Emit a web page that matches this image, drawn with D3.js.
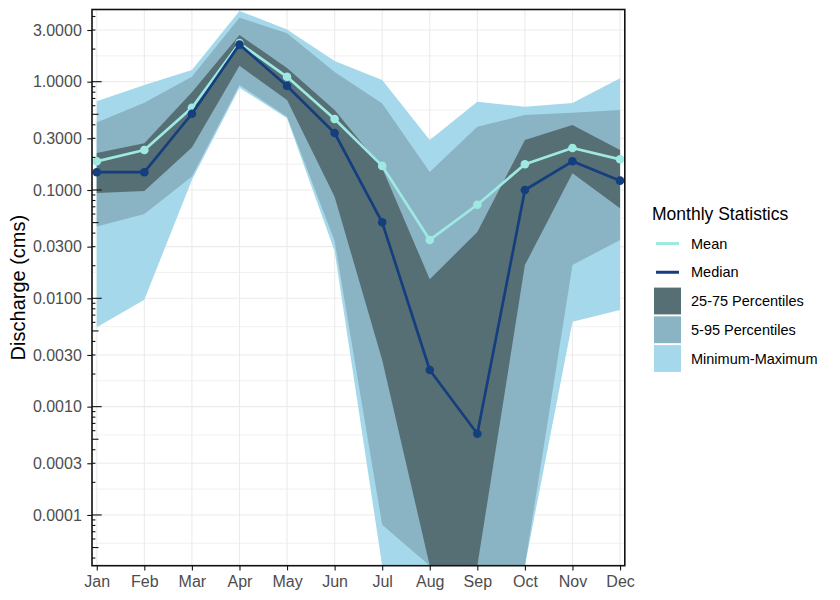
<!DOCTYPE html>
<html>
<head>
<meta charset="utf-8">
<script src="https://cdn.jsdelivr.net/npm/d3@7"></script>
<style>
  body { margin: 0; background: #fff; }
  text { font-family: "Liberation Sans", Arial, Helvetica, sans-serif; }
</style>
</head>
<body>
<div id="chart"></div>
<script>
// monthly discharge statistics (cms)
var months = ['Jan', 'Feb', 'Mar', 'Apr', 'May', 'Jun', 'Jul', 'Aug', 'Sep', 'Oct', 'Nov', 'Dec'];
var meanQ   = [0.184, 0.234, 0.575, 2.27, 1.11, 0.452, 0.167, 0.0346, 0.0731, 0.173, 0.244, 0.192];
var medianQ = [0.146, 0.146, 0.506, 2.20, 0.912, 0.336, 0.0503, 0.00218, 0.000562, 0.100, 0.184, 0.122];
var p25 = [0.094, 0.098, 0.247, 1.40, 0.678, 0.0867, 0.0027, 0, 0, 0.0203, 0.1426, 0.0678];
var p75 = [0.22, 0.27, 0.80, 2.70, 1.34, 0.548, 0.160, 0.015, 0.041, 0.289, 0.398, 0.234];
var p5  = [0.046, 0.060, 0.133, 0.93, 0.475, 0.0338, 0.000081, 0, 0, 0, 0.0203, 0.0346];
var p95 = [0.42, 0.64, 1.11, 3.9, 2.80, 1.23, 0.63, 0.1466, 0.384, 0.492, 0.517, 0.548];
var minQ = [0.0054, 0.0097, 0.124, 0.88, 0.459, 0.0273, 0.00003, 0, 0, 0.000024, 0.00609, 0.0078];
var maxQ = [0.66, 0.93, 1.28, 4.5, 3.04, 1.55, 1.036, 0.289, 0.653, 0.588, 0.635, 1.074];

var yTicks = [0.0001, 0.0003, 0.001, 0.003, 0.01, 0.03, 0.1, 0.3, 1, 3];
var legendLabels = ['Mean', 'Median', '25-75 Percentiles', '5-95 Percentiles', 'Minimum-Maximum'];

var colors = {
  mean: '#9fe9e3',
  median: '#153e7e',
  iqr: '#566f75',
  p595: '#8ab3c3',
  range: '#a5d8ea'
};

var W = 840, H = 600;
var panel = {left: 92, right: 624.8, top: 9.5, bottom: 565.7};

var svg = d3.select('#chart').append('svg')
  .attr('width', W)
  .attr('height', H);

var x = d3.scaleLinear()
  .domain([0.9, 12.1])
  .range([panel.left, panel.right]);

var y = d3.scaleLog()
  .domain([3.4e-5, 4.64])
  .range([panel.bottom, panel.top])
  .clamp(true);

var data = months.map(function(m, i) {
  return {
    i: i + 1, month: m,
    mean: meanQ[i], median: medianQ[i],
    p25: p25[i], p75: p75[i], p5: p5[i], p95: p95[i],
    min: minQ[i], max: maxQ[i]
  };
});

svg.append('defs').append('clipPath').attr('id', 'panel-clip')
  .append('rect')
  .attr('x', panel.left).attr('y', panel.top)
  .attr('width', panel.right - panel.left)
  .attr('height', panel.bottom - panel.top);

// grid
var grid = svg.append('g');
var minor = [];
var ext = [3e-5].concat(yTicks).concat([10]);
for (var k = 0; k < ext.length - 1; k++) minor.push(Math.sqrt(ext[k] * ext[k + 1]));
minor = minor.filter(function(v) { return v >= y.domain()[0] && v <= y.domain()[1]; });

grid.selectAll('.minor').data(minor).enter().append('line')
  .attr('x1', panel.left).attr('x2', panel.right)
  .attr('y1', function(d) { return y(d); }).attr('y2', function(d) { return y(d); })
  .attr('stroke', '#ededed').attr('stroke-width', 0.8);

grid.selectAll('.hmajor').data(yTicks).enter().append('line')
  .attr('x1', panel.left).attr('x2', panel.right)
  .attr('y1', function(d) { return y(d); }).attr('y2', function(d) { return y(d); })
  .attr('stroke', '#ebebeb').attr('stroke-width', 1.1);

grid.selectAll('.vmajor').data(data).enter().append('line')
  .attr('y1', panel.top).attr('y2', panel.bottom)
  .attr('x1', function(d) { return x(d.i); }).attr('x2', function(d) { return x(d.i); })
  .attr('stroke', '#ebebeb').attr('stroke-width', 1.1);

// ribbons
var plot = svg.append('g').attr('clip-path', 'url(#panel-clip)');

function ribbon(lo, hi) {
  return d3.area()
    .x(function(d) { return x(d.i); })
    .y0(function(d) { return y(d[lo]); })
    .y1(function(d) { return y(d[hi]); });
}

plot.append('path').datum(data).attr('d', ribbon('min', 'max')).attr('fill', colors.range);
plot.append('path').datum(data).attr('d', ribbon('p5', 'p95')).attr('fill', colors.p595);
plot.append('path').datum(data).attr('d', ribbon('p25', 'p75')).attr('fill', colors.iqr);

// mean and median lines
function drawSeries(key, color) {
  var line = d3.line()
    .x(function(d) { return x(d.i); })
    .y(function(d) { return y(d[key]); });
  plot.append('path').datum(data)
    .attr('d', line)
    .attr('fill', 'none')
    .attr('stroke', color)
    .attr('stroke-width', 2.7)
    .attr('stroke-linejoin', 'round');
  plot.selectAll('.pt-' + key).data(data).enter().append('circle')
    .attr('cx', function(d) { return x(d.i); })
    .attr('cy', function(d) { return y(d[key]); })
    .attr('r', 4.3)
    .attr('fill', color);
}
drawSeries('mean', colors.mean);
drawSeries('median', colors.median);

// panel border
svg.append('rect')
  .attr('x', panel.left).attr('y', panel.top)
  .attr('width', panel.right - panel.left)
  .attr('height', panel.bottom - panel.top)
  .attr('fill', 'none')
  .attr('stroke', '#111')
  .attr('stroke-width', 1.6);

// log ticks inside the left edge
var logticks = [];
for (var e = -5; e <= 0; e++) {
  for (var m = 1; m <= 9; m++) {
    var v = m * Math.pow(10, e);
    if (v >= y.domain()[0] && v <= y.domain()[1]) logticks.push({v: v, m: m});
  }
}
svg.append('g').selectAll('line').data(logticks).enter().append('line')
  .attr('x1', panel.left)
  .attr('x2', function(d) { return panel.left + (d.m === 1 ? 9.7 : d.m === 5 ? 6.5 : 3.4); })
  .attr('y1', function(d) { return y(d.v); })
  .attr('y2', function(d) { return y(d.v); })
  .attr('stroke', '#111')
  .attr('stroke-width', 1.1);

// axes
var yAxis = d3.axisLeft(y)
  .tickValues(yTicks)
  .tickFormat(d3.format('.4f'))
  .tickSize(4.7)
  .tickPadding(5.5);

var gy = svg.append('g')
  .attr('transform', 'translate(' + panel.left + ',0)')
  .call(yAxis);
gy.select('.domain').remove();
gy.selectAll('.tick line').attr('stroke', '#111').attr('stroke-width', 1.1);
gy.selectAll('.tick text')
  .attr('fill', '#4d4d4d')
  .style('font-size', '16px');

var xAxis = d3.axisBottom(x)
  .tickValues(d3.range(1, 13))
  .tickFormat(function(d) { return months[d - 1]; })
  .tickSize(4.7)
  .tickPadding(5);

var gx = svg.append('g')
  .attr('transform', 'translate(0,' + panel.bottom + ')')
  .call(xAxis);
gx.select('.domain').remove();
gx.selectAll('.tick line').attr('stroke', '#111').attr('stroke-width', 1.1);
gx.selectAll('.tick text')
  .attr('fill', '#4d4d4d')
  .style('font-size', '16px');

svg.append('text')
  .attr('transform', 'translate(24.5,' + ((panel.top + panel.bottom) / 2) + ') rotate(-90)')
  .attr('text-anchor', 'middle')
  .style('font-size', '20px')
  .attr('fill', '#000')
  .text('Discharge (cms)');

// legend
var legend = svg.append('g').attr('transform', 'translate(652,0)');
legend.append('text')
  .attr('x', 0).attr('y', 219.5)
  .style('font-size', '17.5px')
  .text('Monthly Statistics');

var keyFills = [null, null, colors.iqr, colors.p595, colors.range];
var keyLines = [colors.mean, colors.median, null, null, null];

legendLabels.forEach(function(lab, i) {
  var cy = 243.5 + i * 28.75;
  if (keyLines[i]) {
    legend.append('line')
      .attr('x1', 4).attr('x2', 27)
      .attr('y1', cy).attr('y2', cy)
      .attr('stroke', keyLines[i])
      .attr('stroke-width', 3);
  } else {
    legend.append('rect')
      .attr('x', 2).attr('y', cy - 13.4)
      .attr('width', 27).attr('height', 26.8)
      .attr('fill', keyFills[i]);
  }
  legend.append('text')
    .attr('x', 39).attr('y', cy + 5.2)
    .style('font-size', '14.5px')
    .text(lab);
});
</script>
</body>
</html>
